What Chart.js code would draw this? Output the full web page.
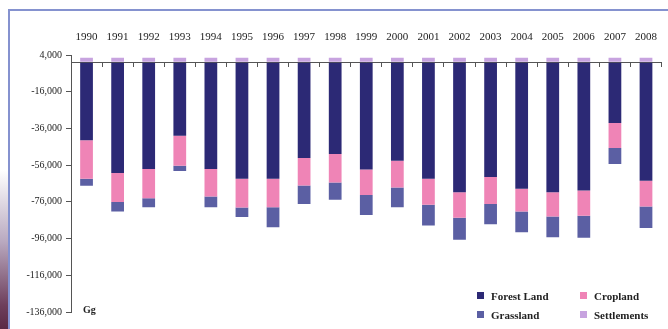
<!DOCTYPE html>
<html>
<head>
<meta charset="utf-8">
<script src="https://cdn.jsdelivr.net/npm/chart.js@4/dist/chart.umd.min.js"></script>
<style>
  body { margin: 0; background: #fff; }
  #wrap { position: relative; width: 668px; height: 329px; overflow: hidden; background: #fff; }
  #strip { position: absolute; left: 0; top: 170px; width: 8px; height: 159px;
           background: linear-gradient(to bottom, #ffffff, #b9a9c0 45%, #6e3f5c 85%, #5a2a45); }
  #frame { position: absolute; left: 8px; top: 9px; right: -2px; bottom: -2px;
           border-left: 2px solid #8592cf; border-top: 2px solid #8592cf; }
  #chartBox { position: absolute; left: 0; top: 0; width: 668px; height: 329px; }
  #unit { position: absolute; left: 83px; top: 304px; font: bold 10px "Liberation Serif", serif; color: #222; }
  #legend { position: absolute; left: 477px; top: 288px; display: grid;
            grid-template-columns: 103px 80px; row-gap: 4px; font: bold 11px "Liberation Serif", serif; color: #222; }
  .item { display: flex; align-items: center; height: 15px; }
  .box { width: 7px; height: 7px; margin-right: 7px; }
</style>
</head>
<body>
<div id="wrap">
  <div id="strip"></div>
  <div id="frame"></div>
  <div id="chartBox"><canvas id="landChart"></canvas></div>
  <div id="unit">Gg</div>
  <div id="legend"></div>
</div>
<script>
  // Data (Gg)
  const years = ['1990', '1991', '1992', '1993', '1994', '1995', '1996', '1997', '1998', '1999',
                 '2000', '2001', '2002', '2003', '2004', '2005', '2006', '2007', '2008'];
  const forestLand = [-42500, -60300, -58100, -40000, -58100, -63400, -63400, -52100, -49900, -58400,
                      -53600, -63400, -70700, -62500, -68900, -70700, -69800, -33000, -64500];
  const cropland = [-20900, -15800, -15900, -16300, -15000, -15700, -15500, -15000, -15500, -13800,
                    -14600, -14200, -13900, -14600, -12400, -13300, -13700, -13700, -14000];
  const grassland = [-3800, -5200, -4900, -2900, -5800, -5200, -10900, -10100, -9500, -10900,
                     -10700, -11300, -12100, -11100, -11200, -11300, -12000, -8700, -11800];
  const settlements = [2500, 2500, 2500, 2500, 2500, 2500, 2500, 2500, 2500, 2500,
                       2500, 2500, 2500, 2500, 2500, 2500, 2500, 2500, 2500];

  const yMin = -136000;
  const yMax = 4000;
  const yStep = 20000;

  const serif = '"Liberation Serif", "Times New Roman", serif';
  const axisColor = '#555';

  const datasets = [
    { label: 'Forest Land', data: forestLand, backgroundColor: '#2c2975' },
    { label: 'Cropland', data: cropland, backgroundColor: '#ef84b6' },
    { label: 'Grassland', data: grassland, backgroundColor: '#5b5fa3' },
    { label: 'Settlements', data: settlements, backgroundColor: '#c7a3df' }
  ];

  const landChart = new Chart(document.getElementById('landChart'), {
    type: 'bar',
    data: {
      labels: years,
      datasets: datasets.map(d => Object.assign({ barPercentage: 0.41, categoryPercentage: 1 }, d))
    },
    options: {
      responsive: true,
      maintainAspectRatio: false,
      animation: false,
      layout: { padding: { left: 0, right: 0, top: 0, bottom: 17 } },
      plugins: {
        legend: { display: false },
        tooltip: { enabled: false }
      },
      scales: {
        x: {
          stacked: true,
          position: { y: 0 },
          offset: true,
          grid: { offset: true, drawOnChartArea: false, tickLength: 4, color: axisColor },
          border: { display: true, color: axisColor, width: 1 },
          ticks: { display: false }
        },
        x2: {
          type: 'category',
          position: 'top',
          offset: true,
          grid: { display: false, drawTicks: false },
          border: { display: false },
          ticks: { padding: 11, color: '#222', font: { family: serif, size: 11 } },
          afterFit: scale => { scale.height = 55; }
        },
        y: {
          stacked: true,
          min: yMin,
          max: yMax,
          // extra tick at 0 only to draw the zero line across the plot
          afterBuildTicks: scale => {
            scale.ticks.push({ value: 0 });
            scale.ticks.sort((a, b) => a.value - b.value);
          },
          grid: {
            drawOnChartArea: true,
            tickLength: 5,
            color: c => (c.tick && c.tick.value === 0 ? axisColor : 'rgba(0,0,0,0)'),
            tickColor: c => (c.tick && c.tick.value === 0 ? 'rgba(0,0,0,0)' : axisColor)
          },
          border: { display: true, color: axisColor, width: 1 },
          ticks: {
            stepSize: yStep,
            padding: 4,
            color: '#222',
            font: { family: serif, size: 10 },
            callback: v => (v === 0 ? '' : v.toLocaleString('en-US'))
          },
          afterFit: scale => { scale.width = 71; }
        }
      }
    }
  });

  // Legend in two rows, like the original
  const legend = document.getElementById('legend');
  datasets.forEach(d => {
    const item = document.createElement('div');
    item.className = 'item';
    item.innerHTML = `<span class="box" style="background:${d.backgroundColor}"></span>${d.label}`;
    legend.appendChild(item);
  });
</script>
</body>
</html>
